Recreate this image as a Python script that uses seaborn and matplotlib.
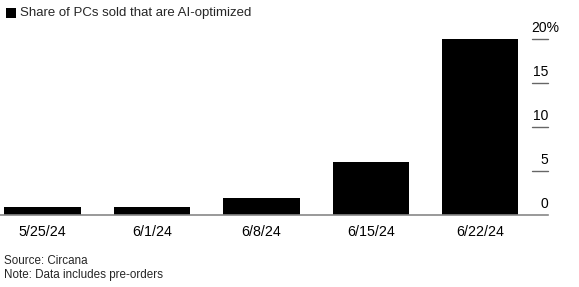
import matplotlib
matplotlib.use("Agg")
import matplotlib.pyplot as plt
import seaborn as sns
import pandas as pd
from matplotlib.patches import Rectangle
from matplotlib.transforms import blended_transform_factory

categories = ["5/25/24", "6/1/24", "6/8/24", "6/15/24", "6/22/24"]
values = [0.9, 0.9, 1.9, 6.0, 20.0]
yticks = [0, 5, 10, 15, 20]
ytick_labels = ["0", "5", "10", "15", "20%"]

sns.set_theme(style="white")
plt.rcParams["font.family"] = ["Liberation Sans", "DejaVu Sans"]

df = pd.DataFrame({"week": categories, "share": values})

fig = plt.figure(figsize=(5.79, 2.87), dpi=100)
ax = fig.add_axes([0.0, 1 - 215 / 287, 548 / 579, (215 - 39) / 287])
sns.barplot(data=df, x="week", y="share", color="black", width=0.70,
            saturation=1, ax=ax, edgecolor="none")
ax.set_xlim(-0.39, 4.62)
ax.set_ylim(0, 20)
ax.set_xlabel("")
ax.set_ylabel("")
for s in ["top", "left", "right"]:
    ax.spines[s].set_visible(False)
ax.spines["bottom"].set_color("#888888")
ax.spines["bottom"].set_linewidth(1.2)
ax.tick_params(axis="x", length=0, pad=7, labelsize=10.3, colors="black")
ax.set_yticks([])

# right-side gridline stubs with labels above them
trans = blended_transform_factory(ax.transAxes, ax.transData)
for v, lab in zip(yticks, ytick_labels):
    if v != 0:
        ax.plot([532 / 548, 1.0], [v, v], transform=trans, color="#666666",
                lw=1.0, clip_on=False)
    if lab.endswith("%"):
        ax.annotate(lab, xy=(531 / 548, v), xycoords=trans, xytext=(0, 3),
                    textcoords="offset points", ha="left", va="bottom",
                    fontsize=10, color="black")
    else:
        ax.annotate(lab, xy=(1.0, v), xycoords=trans, xytext=(0, 3),
                    textcoords="offset points", ha="right", va="bottom",
                    fontsize=10, color="black")

# legend square
fig.patches.append(Rectangle((6 / 579, 1 - 18 / 287), 10 / 579, 10 / 287,
                             transform=fig.transFigure, facecolor="black",
                             edgecolor="none"))
fig.text(20 / 579, 1 - 13 / 287, "Share of PCs sold that are AI-optimized",
         fontsize=9.5, va="center", ha="left")
fig.text(4 / 579, 1 - 261 / 287, "Source: Circana", fontsize=8.4, va="center", ha="left")
fig.text(4 / 579, 1 - 275 / 287, "Note: Data includes pre-orders", fontsize=8.4,
         va="center", ha="left")

fig.savefig("out.png", dpi=100)
